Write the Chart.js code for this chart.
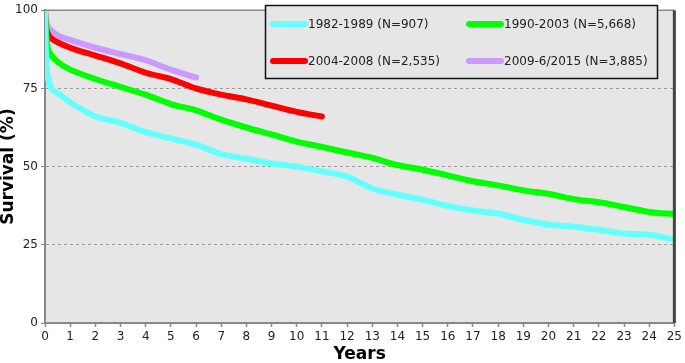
<!DOCTYPE html>
<html>
<head>
<meta charset="utf-8">
<script src="https://cdn.jsdelivr.net/npm/chart.js@4.4.1/dist/chart.umd.min.js"></script>
<style>
  body { margin: 0; background: #fff; }
  canvas { display: block; }
</style>
</head>
<body>
<canvas id="survivalChart" width="685" height="363"></canvas>
<script>
// Survival (%), by years since transplant
const labels = ['1982-1989 (N=907)', '1990-2003 (N=5,668)', '2004-2008 (N=2,535)', '2009-6/2015 (N=3,885)'];
const colors = ['#66ffff', '#00ff00', '#ff0000', '#cc99ff'];

const years1982 = [0, 0.03, 0.08, 0.25, 0.6, 1, 2, 3, 4, 5, 6, 7, 8, 9, 10, 11, 12, 13, 14, 15, 16, 17, 18, 19, 20, 21, 22, 23, 24, 25];
const surv1982 = [100, 88, 80, 75, 73, 70.5, 66, 64, 61, 59, 57, 54, 52.5, 51, 50, 48.5, 46.8, 43, 41, 39.4, 37.4, 36, 35, 33, 31.5, 30.8, 29.8, 28.6, 28.2, 26.7];

const years1990 = [0, 0.05, 0.15, 0.5, 1, 2, 3, 4, 5, 6, 7, 8, 9, 10, 11, 12, 13, 14, 15, 16, 17, 18, 19, 20, 21, 22, 23, 24, 25];
const surv1990 = [100, 92, 87, 83.5, 81, 78, 75.5, 73, 70, 68, 65, 62.5, 60.3, 58, 56.3, 54.5, 52.8, 50.5, 49, 47.2, 45.3, 44, 42.4, 41.3, 39.6, 38.6, 37.1, 35.5, 34.8];

const years2004 = [0, 0.05, 0.25, 1, 2, 3, 4, 5, 6, 7, 8, 9, 10, 11];
const surv2004 = [100, 94, 91, 88, 85.5, 83, 80, 78, 75, 73, 71.5, 69.5, 67.5, 66];

const years2009 = [0, 0.1, 0.5, 1, 2, 3, 4, 5, 6];
const surv2009 = [100, 95, 92, 90.5, 88, 86, 84, 81, 78.5];

const xTicks = { min: 0, max: 25, step: 1 };
const yTicks = { min: 0, max: 100, step: 25 };

function toPoints(xs, ys) {
    return xs.map((x, i) => ({ x: x, y: ys[i] }));
}

const seriesData = [
    toPoints(years1982, surv1982),
    toPoints(years1990, surv1990),
    toPoints(years2004, surv2004),
    toPoints(years2009, surv2009)
];

const plotFrame = {
    id: 'plotFrame',
    beforeDraw(chart) {
        const a = chart.chartArea, ctx = chart.ctx;
        ctx.save();
        ctx.fillStyle = '#e6e6e6';
        ctx.fillRect(a.left, a.top, a.right - a.left, a.bottom - a.top);
        ctx.restore();
    },
    afterDraw(chart) {
        const a = chart.chartArea, ctx = chart.ctx;
        ctx.save();
        // top and right frame
        ctx.strokeStyle = '#888';
        ctx.lineWidth = 1.5;
        ctx.beginPath();
        ctx.moveTo(a.left, a.top);
        ctx.lineTo(a.right, a.top);
        ctx.stroke();
        ctx.strokeStyle = '#444';
        ctx.lineWidth = 3;
        ctx.beginPath();
        ctx.moveTo(a.right, a.top);
        ctx.lineTo(a.right, a.bottom);
        ctx.stroke();

        // legend box
        ctx.fillStyle = '#e6e6e6';
        ctx.fillRect(265.5, 5.5, 392, 73);
        ctx.strokeStyle = '#111';
        ctx.lineWidth = 1.5;
        ctx.strokeRect(265.5, 5.5, 392, 73);
        const cols = [273, 469], rows = [24, 61];
        ctx.font = '12px "DejaVu Sans"';
        ctx.textBaseline = 'middle';
        ctx.lineCap = 'round';
        chart.data.datasets.forEach((ds, i) => {
            const x = cols[i % 2], y = rows[Math.floor(i / 2)];
            ctx.strokeStyle = ds.borderColor;
            ctx.lineWidth = 6;
            ctx.beginPath();
            ctx.moveTo(x, y);
            ctx.lineTo(x + 32, y);
            ctx.stroke();
            ctx.fillStyle = '#222';
            ctx.fillText(ds.label, x + 35, y + 1);
        });
        ctx.restore();
    }
};

new Chart(document.getElementById('survivalChart').getContext('2d'), {
    type: 'line',
    data: {
        datasets: seriesData.map((pts, i) => ({
            label: labels[i],
            data: pts,
            borderColor: colors[i],
            backgroundColor: colors[i],
            borderWidth: 6,
            pointRadius: 0,
            tension: 0.3,
            borderCapStyle: 'round',
            borderJoinStyle: 'round',
            fill: false
        }))
    },
    options: {
        responsive: false,
        animation: false,
        layout: { autoPadding: false, padding: { top: 5, right: 7, left: 0, bottom: 0 } },
        plugins: { legend: { display: false }, tooltip: { enabled: false } },
        scales: {
            x: {
                type: 'linear',
                min: xTicks.min,
                max: xTicks.max,
                afterFit: s => { s.height = 40; },
                ticks: { stepSize: xTicks.step, color: '#222', font: { family: 'DejaVu Sans', size: 12 }, padding: 3, maxRotation: 0, autoSkip: false },
                grid: { drawOnChartArea: false, tickLength: 4, tickColor: '#888', tickWidth: 1.5 },
                border: { color: '#888', width: 2 },
                title: { display: true, text: 'Years', color: '#000', font: { family: 'DejaVu Sans', size: 17, weight: 'bold', lineHeight: 1 }, padding: { top: 0, bottom: 0 } }
            },
            y: {
                min: yTicks.min,
                max: yTicks.max,
                afterFit: s => { s.width = 45; },
                ticks: { stepSize: yTicks.step, color: '#222', font: { family: 'DejaVu Sans', size: 12 }, padding: 3 },
                grid: {
                    color: c => (c.tick.value > 0 && c.tick.value < 100) ? '#9a9a9a' : 'rgba(0,0,0,0)',
                    lineWidth: 1,
                    tickLength: 4,
                    tickColor: '#888'
                },
                border: { color: '#888', width: 2, dash: [3, 3] },
                title: { display: true, text: 'Survival (%)', color: '#000', font: { family: 'DejaVu Sans', size: 17, weight: 'bold', lineHeight: 1 }, padding: { top: 0, bottom: 0 } }
            }
        }
    },
    plugins: [plotFrame]
});
</script>
</body>
</html>
